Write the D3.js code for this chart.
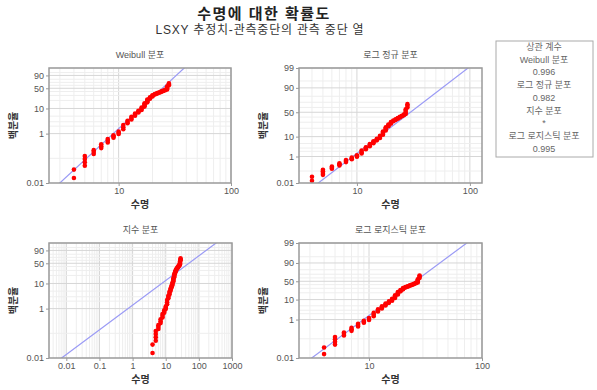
<!DOCTYPE html>
<html>
<head>
<meta charset="utf-8">
<script src="https://cdn.jsdelivr.net/npm/d3@7"></script>
<style>
body { margin: 0; background: #fff; }
svg { font-family: "Liberation Sans", "Noto Sans CJK KR", sans-serif; }
</style>
</head>
<body>
<div id="chart"></div>
<script>
const WIDTH = 597;
const HEIGHT = 390;

// failure times (수명) and their plotted percents
const failTimes = [4, 4,
    5, 5, 5, 5,
    6, 6, 6,
    7, 7, 7,
    8, 8, 8,
    9, 9, 9,
    10, 10, 10,
    11, 11, 11,
    12, 12, 12,
    13, 13, 13,
    14, 14, 14,
    15, 15, 15,
    16, 16, 16,
    17, 17, 17, 17,
    18, 18, 18, 18,
    19, 19, 19,
    20, 20, 20,
    21, 21, 22, 22, 23, 23, 24, 24, 25, 25, 26, 26,
    27, 27, 27, 27,
    28, 28, 28];
const failPct = [0.016, 0.035,
    0.05, 0.07, 0.095, 0.125,
    0.15, 0.18, 0.215,
    0.26, 0.31, 0.37,
    0.44, 0.52, 0.6,
    0.68, 0.76, 0.85,
    0.96, 1.08, 1.2,
    1.5, 1.8, 2.2,
    2.6, 2.95, 3.3,
    3.7, 4.2, 4.7,
    5.2, 5.8, 6.4,
    7.0, 7.6, 8.2,
    8.8, 9.8, 10.8,
    11.8, 13.0, 14.3, 15.6,
    17.0, 18.5, 20.0, 21.5,
    23.0, 24.5, 26.0,
    27.5, 29.0, 30.5,
    32.0, 33.2, 34.4, 35.6, 36.8, 38.0, 39.2, 40.4, 41.6, 42.8, 44.0, 45.2,
    46.5, 49.0, 52.5, 56.0,
    60.0, 63.5, 66.5];

const panelTitles = ["Weibull 분포", "로그 정규 분포", "지수 분포", "로그 로지스틱 분포"];
const xDomains = [[2.4, 100], [3.07, 128], [0.003, 1000], [2.4, 100]];
const xTickValues = [[10, 100], [10, 100], [0.01, 0.1, 1, 10, 100, 1000], [10, 100]];
const yTickPct = [[0.01, 1, 10, 50, 90], [0.01, 1, 10, 50, 90, 99],
                  [0.01, 1, 10, 50, 90], [0.01, 1, 10, 50, 90, 99]];
const yGridPct = [0.1, 1, 2, 3, 5, 10, 20, 30, 40, 50, 60, 70, 80, 90, 95, 99];
const yPctDomain = [0.01, 99];

// fitted lines (LSXY): Weibull shape/scale, lognormal loc/scale, exponential mean, loglogistic loc/scale
const weibullFit = [4.21, 26.7];
const lognormFit = [3.393, 0.505];
const expoFit = [72];
const loglogFit = [3.243, 0.229];

const corrLines = ["상관 계수", "Weibull 분포", "0.996", "로그 정규 분포", "0.982",
                   "지수 분포", "*", "로그 로지스틱 분포", "0.995"];

function probit(p) {
    const a = [-39.69683028665376, 220.9460984245205, -275.9285104469687, 138.3577518672690, -30.66479806614716, 2.506628277459239];
    const b = [-54.47609879822406, 161.5858368580409, -155.6989798598866, 66.80131188771972, -13.28068155288572];
    const c = [-0.007784894002430293, -0.3223964580411365, -2.400758277161838, -2.549732539343734, 4.374664141464968, 2.938163982698783];
    const d = [0.007784695709041462, 0.3224671290700398, 2.445134137142996, 3.754408661907416];
    const pl = 0.02425;
    let q, r;
    if (p < pl) {
        q = Math.sqrt(-2 * Math.log(p));
        return (((((c[0]*q+c[1])*q+c[2])*q+c[3])*q+c[4])*q+c[5]) / ((((d[0]*q+d[1])*q+d[2])*q+d[3])*q+1);
    }
    if (p > 1 - pl) {
        q = Math.sqrt(-2 * Math.log(1 - p));
        return -(((((c[0]*q+c[1])*q+c[2])*q+c[3])*q+c[4])*q+c[5]) / ((((d[0]*q+d[1])*q+d[2])*q+d[3])*q+1);
    }
    q = p - 0.5;
    r = q * q;
    return (((((a[0]*r+a[1])*r+a[2])*r+a[3])*r+a[4])*r+a[5])*q / (((((b[0]*r+b[1])*r+b[2])*r+b[3])*r+b[4])*r+1);
}

const weibT = (pct) => Math.log(-Math.log(1 - pct / 100));
const normT = (pct) => probit(pct / 100);
const logisT = (pct) => Math.log((pct / 100) / (1 - pct / 100));

// y = slope * ln(t) + intercept in transformed units
const panels = [
    { box: [49, 68, 182, 115], tf: weibT, slope: weibullFit[0], icpt: -weibullFit[0] * Math.log(weibullFit[1]) },
    { box: [299, 68, 183, 115], tf: normT, slope: 1 / lognormFit[1], icpt: -lognormFit[0] / lognormFit[1] },
    { box: [49, 243, 183, 115], tf: weibT, slope: 1, icpt: -Math.log(expoFit[0]) },
    { box: [299, 243, 183, 115], tf: logisT, slope: 1 / loglogFit[1], icpt: -loglogFit[0] / loglogFit[1] }
];

const svg = d3.select("#chart").append("svg")
    .attr("width", WIDTH)
    .attr("height", HEIGHT);

svg.append("text")
    .attr("x", 264).attr("y", 19)
    .attr("text-anchor", "middle")
    .style("font-size", "15px").style("font-weight", "bold").style("letter-spacing", "1.5px")
    .attr("fill", "#222")
    .text("수명에 대한 확률도");

svg.append("text")
    .attr("x", 260).attr("y", 34)
    .attr("text-anchor", "middle")
    .style("font-size", "12px").style("letter-spacing", "0.8px").attr("fill", "#333")
    .text("LSXY 추정치-관측중단의 관측 중단 열");

panels.forEach((pn, i) => {
    const [left, top, w, h] = pn.box;
    const g = svg.append("g").attr("transform", "translate(" + left + "," + top + ")");

    const x = d3.scaleLog().domain(xDomains[i]).range([0, w]);
    const y = d3.scaleLinear().domain(yPctDomain.map(pn.tf)).range([h, 0]);

    // grid
    const grid = g.append("g");
    grid.selectAll(".vx").data(x.ticks()).enter().append("line")
        .attr("x1", (d) => x(d)).attr("x2", (d) => x(d))
        .attr("y1", 0).attr("y2", h)
        .attr("stroke", (d) => Math.abs(Math.log10(d) - Math.round(Math.log10(d))) < 1e-6 ? "#d6d6d6" : "#eeeeee")
        .attr("stroke-width", 1);
    grid.selectAll(".hy").data(yGridPct).enter().append("line")
        .attr("x1", 0).attr("x2", w)
        .attr("y1", (d) => y(pn.tf(d))).attr("y2", (d) => y(pn.tf(d)))
        .attr("stroke", (d) => yTickPct[i].includes(d) ? "#d6d6d6" : "#eeeeee")
        .attr("stroke-width", 1);

    // fit line, clipped to the box
    g.append("clipPath").attr("id", "clip" + i)
        .append("rect").attr("width", w).attr("height", h);
    const xd = xDomains[i];
    g.append("line")
        .attr("clip-path", "url(#clip" + i + ")")
        .attr("x1", x(xd[0])).attr("y1", y(pn.slope * Math.log(xd[0]) + pn.icpt))
        .attr("x2", x(xd[1])).attr("y2", y(pn.slope * Math.log(xd[1]) + pn.icpt))
        .attr("stroke", "#9a9af5").attr("stroke-width", 1.2);

    // points
    g.selectAll("circle").data(failTimes).enter().append("circle")
        .attr("cx", (d) => x(d))
        .attr("cy", (d, j) => y(pn.tf(failPct[j])))
        .attr("r", 2.3)
        .attr("fill", "#ff0000");

    // frame
    g.append("rect").attr("width", w).attr("height", h)
        .attr("fill", "none").attr("stroke", "#9a9a9a").attr("stroke-width", 1.5);

    // axes
    const xAxis = d3.axisBottom(x).tickValues(xTickValues[i])
        .tickFormat((d) => String(d)).tickSize(3).tickPadding(2);
    const yAxis = d3.axisLeft(y).tickValues(yTickPct[i].map(pn.tf))
        .tickFormat((d, k) => String(yTickPct[i][k])).tickSize(3).tickPadding(2);

    const xa = g.append("g").attr("transform", "translate(0," + h + ")").call(xAxis);
    const ya = g.append("g").call(yAxis);
    [xa, ya].forEach((a) => {
        a.select(".domain").remove();
        a.selectAll("line").attr("stroke", "#999");
        a.selectAll("text").attr("fill", "#555").style("font-size", "9px")
            .style("font-family", "'Liberation Sans', sans-serif");
    });

    // titles and labels
    g.append("text")
        .attr("x", w / 2).attr("y", -10)
        .attr("text-anchor", "middle")
        .style("font-size", "9px").attr("fill", "#555")
        .text(panelTitles[i]);

    g.append("text")
        .attr("x", w / 2).attr("y", h + 25)
        .attr("text-anchor", "middle")
        .style("font-size", "10px").style("font-weight", "bold").attr("fill", "#333")
        .text("수명");

    g.append("text")
        .attr("transform", "translate(" + (-32) + "," + (h / 2) + ") rotate(-90)")
        .attr("text-anchor", "middle")
        .style("font-size", "10px").style("font-weight", "bold").attr("fill", "#333")
        .text("백분율");
});

// correlation box
svg.append("rect")
    .attr("x", 496).attr("y", 41).attr("width", 97).attr("height", 116)
    .attr("fill", "#fff").attr("stroke", "#aaa").attr("stroke-width", 1);

svg.selectAll(".corr").data(corrLines).enter().append("text")
    .attr("x", 544)
    .attr("y", (d, i) => 50 + i * 12.7)
    .attr("text-anchor", "middle")
    .style("font-size", "9px").attr("fill", "#666")
    .text((d) => d);
</script>
</body>
</html>
